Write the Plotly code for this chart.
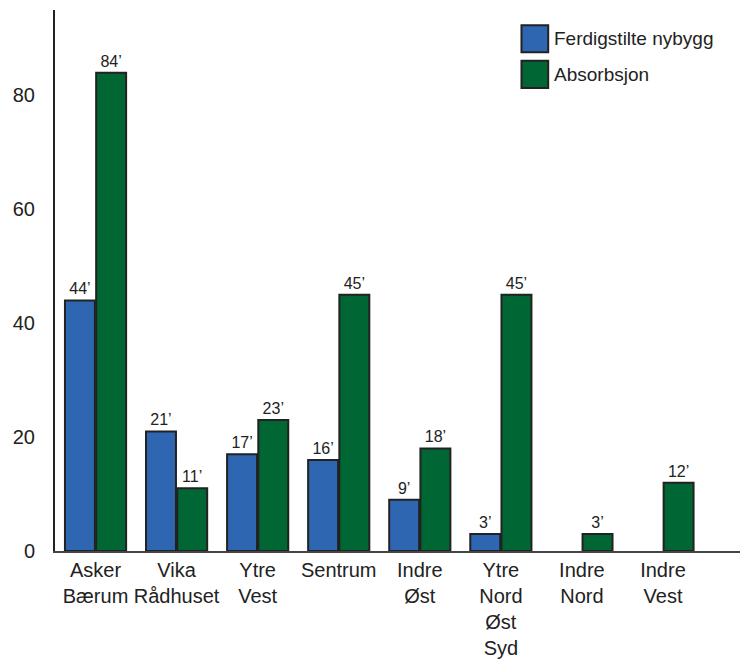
import plotly.graph_objects as go

categories = ["Asker<br>Bærum", "Vika<br>Rådhuset", "Ytre<br>Vest", "Sentrum",
              "Indre<br>Øst", "Ytre<br>Nord<br>Øst<br>Syd", "Indre<br>Nord", "Indre<br>Vest"]
ferdigstilte = [44, 21, 17, 16, 9, 3, None, None]
absorbsjon = [84, 11, 23, 45, 18, 45, 3, 12]
series_names = ["Ferdigstilte nybygg", "Absorbsjon"]
y_ticks = [0, 20, 40, 60, 80]

BLUE = "#2E66B2"
GREEN = "#006633"
EDGE = "#222222"
FONT = "Liberation Sans"

fig = go.Figure()
for name, vals, col in [(series_names[0], ferdigstilte, BLUE),
                        (series_names[1], absorbsjon, GREEN)]:
    fig.add_trace(go.Bar(
        x=categories, y=vals, name=name,
        marker=dict(color=col, line=dict(color=EDGE, width=2)),
        text=[f"{v}’" if v is not None else "" for v in vals],
        textposition="outside", cliponaxis=False, constraintext="none",
        textfont=dict(family=FONT, size=16, color="#222222"),
        outsidetextfont=dict(family=FONT, size=16, color="#222222"),
        showlegend=False,
    ))

# Legend drawn as large bordered swatches with labels
for i, (name, col) in enumerate(zip(series_names, [BLUE, GREEN])):
    y0 = 0.972 - i * 0.066
    fig.add_shape(type="rect", xref="paper", yref="paper",
                  x0=0.681, x1=0.72, y0=y0 - 0.05, y1=y0,
                  fillcolor=col, line=dict(color=EDGE, width=2))
    fig.add_annotation(xref="paper", yref="paper", x=0.726, y=y0 - 0.025,
                       text=name, showarrow=False, xanchor="left", yanchor="middle",
                       font=dict(family=FONT, size=19, color="#222"))

fig.update_layout(
    width=748, height=668,
    margin=dict(l=55, r=8, t=10, b=117),
    plot_bgcolor="white", paper_bgcolor="white",
    barmode="group", bargap=0.23, bargroupgap=0.04,
    font=dict(family=FONT, size=20, color="#222"),
)
fig.update_xaxes(range=[-0.5, 7.95], showline=True, linecolor="#444", linewidth=2,
                 ticks="", showgrid=False, tickfont=dict(size=20))
fig.update_yaxes(range=[0, 95], tickvals=y_ticks, showline=True, linecolor="#222",
                 linewidth=2, ticks="", showgrid=False, zeroline=False,
                 ticklabelstandoff=14, tickfont=dict(size=20))

fig.write_html("out.html")
